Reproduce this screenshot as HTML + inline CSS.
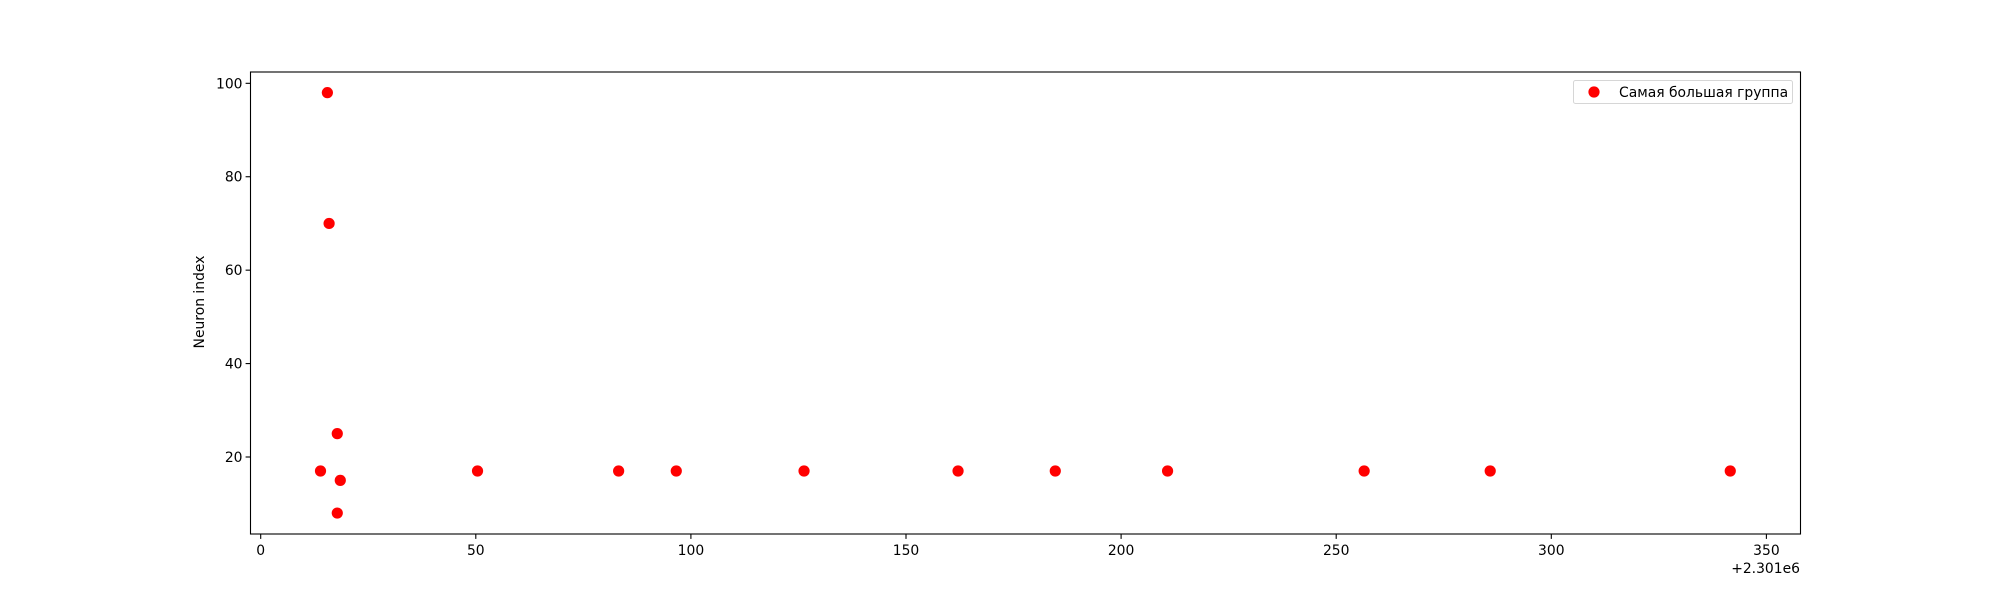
<!DOCTYPE html>
<html><head><meta charset="utf-8"><style>
html,body{margin:0;padding:0;background:#fff;}
svg{display:block;font-family:"DejaVu Sans","Liberation Sans",sans-serif;}
</style></head><body>
<svg id="chart" width="2000" height="600" viewBox="0 0 2000 600">
<rect x="0" y="0" width="2000" height="600" fill="#fff"/>
<g id="plot"></g>
</svg>
<script>
const xValues = [15.5, 15.9, 13.9, 17.8, 18.5, 17.8, 50.4, 83.2, 96.6, 126.3, 162.1, 184.7, 210.8, 256.5, 285.8, 341.6];
const yValues = [98, 70, 17, 25, 15, 8, 17, 17, 17, 17, 17, 17, 17, 17, 17, 17];
const xTicks = [0, 50, 100, 150, 200, 250, 300, 350];
const yTicks = [20, 40, 60, 80, 100];
const seriesLabel = "Самая большая группа";
const offsetLabel = "+2.301e6";

const L=250.5, R=1800.5, T=72, B=534;
const sx = v => 260.7 + v * 4.302;
const sy = v => 457.0 - (v - 20) * 4.671;
const NS="http://www.w3.org/2000/svg";
const g=document.getElementById('plot');
function mk(t,a,txt){const e=document.createElementNS(NS,t);for(const k in a)e.setAttribute(k,a[k]);if(txt!==undefined)e.textContent=txt;g.appendChild(e);return e;}

xTicks.forEach(v=>{
  const l=mk('line',{x1:sx(v),x2:sx(v),y1:B,y2:B+4.9,stroke:'#000','stroke-width':1.1});
  
  
  const t=mk('text',{x:sx(v),y:B+21,'text-anchor':'middle','font-size':13.9,fill:'#000'},String(v));
  
  
});
yTicks.forEach(v=>{
  const l=mk('line',{x1:L-4.9,x2:L,y1:sy(v),y2:sy(v),stroke:'#000','stroke-width':1.1});
  
  
  const t=mk('text',{x:L-8,y:sy(v)+5,'text-anchor':'end','font-size':13.9,fill:'#000'},String(v));
  
  
});
xValues.forEach((x,i)=>{
  const c=mk('circle',{cx:sx(x),cy:sy(yValues[i]),r:5.6,fill:'#ff0000'});
  
  
});
const frame=mk('rect',{x:L,y:T,width:R-L,height:B-T,fill:'none',stroke:'#000','stroke-width':1.1});


const yl=mk('text',{x:0,y:0,transform:'translate(204,302) rotate(-90)','text-anchor':'middle','font-size':13.9,fill:'#000'},'Neuron index');


const off=mk('text',{x:1800,y:573,'text-anchor':'end','font-size':13.9,fill:'#000'},offsetLabel);


const lb=mk('rect',{x:1573.5,y:80.5,width:219,height:23,rx:2,fill:'#fff',stroke:'#d6d6d6','stroke-width':1});


const lm=mk('circle',{cx:1594,cy:92,r:5.6,fill:'#ff0000'});


const lt=mk('text',{x:1619,y:97,'font-size':13.9,fill:'#000'},seriesLabel);


</script>
</body></html>
